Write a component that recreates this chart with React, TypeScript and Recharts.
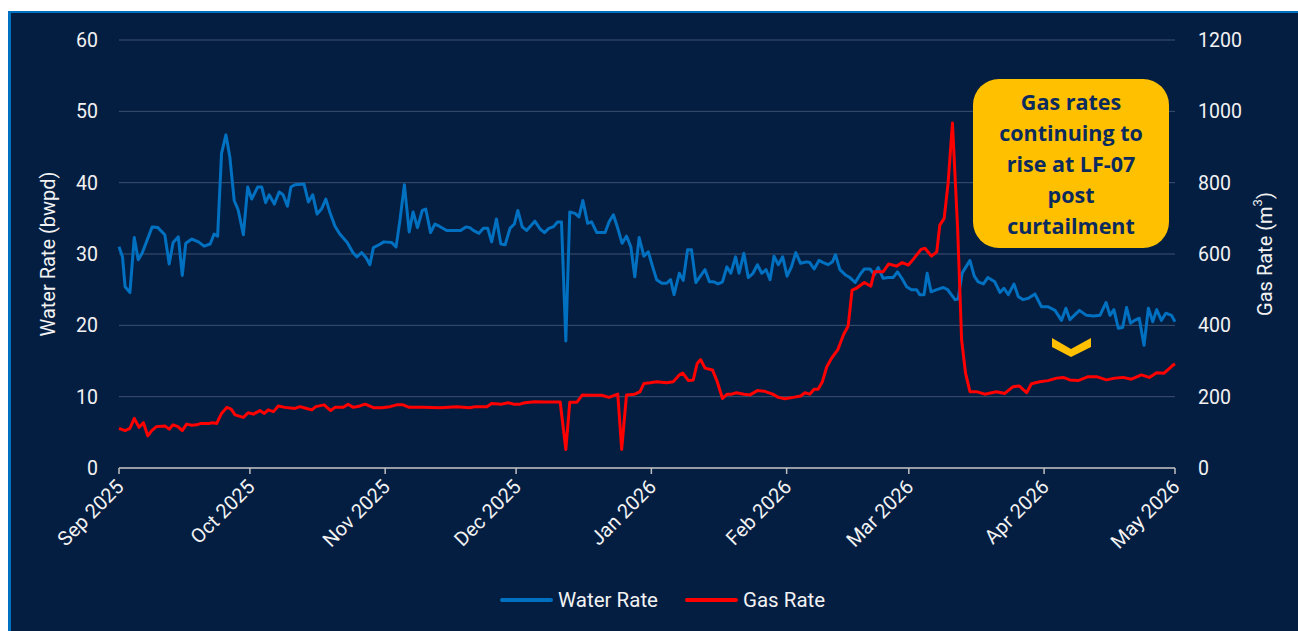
import { CartesianGrid, Line, LineChart, XAxis, YAxis } from 'recharts'

// day offsets from 1 Sep 2025
const monthTicks = [0, 30, 61, 91, 122, 153, 181, 212, 242]
const monthLabels = [
  'Sep 2025', 'Oct 2025', 'Nov 2025', 'Dec 2025', 'Jan 2026',
  'Feb 2026', 'Mar 2026', 'Apr 2026', 'May 2026',
]
const waterTicks = [0, 10, 20, 30, 40, 50, 60]
const gasTicks = [0, 200, 400, 600, 800, 1000, 1200]

const waterDays = [
  0, 0.8, 1.4, 2.5, 3.5, 4.4, 5.3, 7.6, 8.9, 10.5,
  11.5, 12.4, 13.6, 14.5, 15.3, 16.7, 18.2, 19.5, 20.9, 21.8,
  22.6, 23.5, 24.5, 25.4, 26.4, 27.3, 28.5, 29.5, 30.4, 31.8,
  32.7, 33.6, 34.4, 35.6, 36.7, 37.6, 38.6, 39.4, 40.3, 42.4,
  43.4, 44.4, 45.4, 46.4, 47.4, 48.3, 49.5, 50.6, 52.3, 53.6,
  54.5, 55.6, 56.6, 57.5, 58.3, 59.6, 60.7, 62.5, 63.5, 64.4,
  65.4, 66.5, 67.4, 68.4, 69.5, 70.3, 71.4, 72.4, 73.4, 75.1,
  78.3, 79.5, 80.4, 81.2, 82.5, 83.5, 84.5, 85.4, 86.5, 87.5,
  88.5, 89.6, 90.6, 91.4, 92.4, 93.4, 95.3, 96.5, 97.5, 98.5,
  99.5, 100.5, 101.4, 102.4, 103.3, 104.5, 105.4, 106.3, 107.4, 108.3,
  109.5, 111.4, 112.3, 113.3, 114.3, 115.3, 116.3, 117.3, 118.2, 119.2,
  120.3, 121.3, 122.3, 123.2, 124.4, 125.5, 126.4, 127.2, 128.4, 129.3,
  130.3, 131.2, 132.2, 133.1, 134.3, 135.3, 136.3, 137.3, 138.3, 139.3,
  140.2, 141.3, 142.1, 143.2, 144.2, 145.3, 146.3, 147.3, 148.3, 149.2,
  150.1, 151.1, 152.1, 153.1, 154.1, 155.1, 156.2, 157.6, 158.3, 159.3,
  160.4, 161.4, 162.5, 163.5, 164.2, 165.2, 166.4, 167.5, 168.7, 169.8,
  170.8, 172.1, 173.1, 174.0, 175.1, 176.3, 177.4, 178.4, 179.5, 180.5,
  181.6, 182.8, 183.5, 184.5, 185.2, 186.1, 187.4, 188.9, 189.9, 190.6,
  191.6, 192.3, 193.2, 194.2, 195.0, 196.0, 196.9, 198.1, 199.1, 200.7,
  201.9, 202.8, 203.8, 205.1, 206.1, 207.2, 208.4, 209.9, 211.4, 212.9,
  214.5, 216.0, 217.0, 217.9, 220.1, 221.7, 223.3, 224.8, 226.2, 227.1,
  228.0, 229.0, 230.0, 230.9, 231.8, 232.8, 233.8, 234.9, 235.9, 236.9,
  237.8, 238.9, 239.9, 241.2, 242,
]
const waterRate = [
  31.0, 29.6, 25.4, 24.6, 32.3, 29.2, 30.1, 33.8, 33.7, 32.7,
  28.6, 31.6, 32.4, 27.0, 31.5, 32.1, 31.7, 31.1, 31.4, 32.8,
  32.5, 44.1, 46.7, 43.6, 37.5, 36.2, 32.7, 39.4, 37.7, 39.4,
  39.4, 37.2, 38.3, 37.0, 38.7, 38.3, 36.7, 39.4, 39.7, 39.8,
  37.3, 38.3, 35.6, 36.3, 37.7, 35.9, 33.9, 32.8, 31.6, 30.2,
  29.6, 30.2, 29.5, 28.5, 30.9, 31.3, 31.7, 31.6, 31.0, 34.8,
  39.7, 33.1, 35.9, 33.7, 36.1, 36.3, 33.0, 34.2, 33.9, 33.3,
  33.3, 33.8, 33.7, 33.3, 32.9, 33.6, 33.6, 31.7, 34.9, 31.4,
  31.3, 33.6, 34.2, 36.1, 33.8, 33.3, 34.6, 33.5, 33.0, 33.6,
  33.8, 34.5, 34.5, 17.8, 35.9, 35.7, 35.2, 37.5, 34.3, 34.5,
  33.0, 33.0, 34.5, 35.5, 33.6, 31.5, 32.5, 31.0, 26.8, 32.3,
  29.7, 30.3, 28.2, 26.4, 25.9, 25.9, 26.4, 24.3, 27.3, 26.3,
  30.6, 30.6, 26.0, 26.8, 27.8, 26.1, 26.1, 25.8, 26.1, 28.2,
  27.3, 29.6, 27.3, 30.1, 26.7, 27.3, 28.5, 27.3, 27.8, 26.4,
  29.7, 28.5, 29.6, 26.9, 28.2, 30.2, 28.7, 28.9, 28.8, 27.9,
  29.1, 28.8, 28.5, 28.9, 29.9, 27.8, 27.1, 26.7, 26.0, 27.1,
  27.9, 27.9, 27.1, 28.1, 26.6, 26.7, 26.7, 27.5, 26.5, 25.4,
  25.0, 25.0, 24.3, 24.3, 27.3, 24.7, 25.0, 25.3, 25.0, 24.4,
  23.6, 23.7, 27.3, 28.3, 29.1, 26.9, 26.1, 25.8, 26.7, 26.1,
  24.6, 25.2, 24.3, 25.8, 24.0, 23.6, 23.8, 24.4, 22.6, 22.6,
  22.1, 20.7, 22.4, 20.8, 22.1, 21.4, 21.3, 21.4, 23.2, 21.4,
  22.2, 19.6, 19.7, 22.5, 20.3, 20.7, 21.0, 17.2, 22.4, 20.5,
  22.2, 20.7, 21.7, 21.4, 20.5,
]

const gasDays = [
  0, 1.4, 2.5, 3.5, 4.6, 5.6, 6.6, 7.5, 8.6, 10.5,
  11.5, 12.4, 13.5, 14.5, 15.5, 16.7, 17.8, 18.8, 20.5, 21.6,
  22.4, 23.5, 24.7, 25.7, 26.6, 28.5, 29.6, 30.8, 32.3, 33.3,
  34.2, 35.4, 36.5, 38.0, 40.3, 41.5, 43.0, 44.2, 45.1, 47.0,
  48.5, 49.5, 51.4, 52.5, 53.7, 55.2, 56.4, 58.3, 60.2, 62.1,
  63.6, 65.1, 66.5, 69.7, 73.6, 77.4, 80.4, 81.6, 84.3, 85.4,
  87.7, 89.2, 90.4, 91.9, 93.0, 95.3, 97.6, 101.1, 102.4, 103.3,
  104.9, 106.2, 108.3, 110.6, 112.3, 114.3, 115.2, 116.3, 118.2, 119.4,
  120.3, 121.7, 123.2, 125.5, 127.0, 128.4, 129.2, 130.5, 131.6, 132.5,
  133.3, 134.3, 136.0, 137.1, 138.3, 139.4, 140.4, 141.5, 143.2, 144.6,
  146.3, 148.0, 149.8, 151.1, 152.6, 154.5, 156.2, 157.2, 158.3, 159.3,
  160.2, 161.2, 162.2, 163.3, 164.7, 166.0, 167.1, 168.0, 169.0, 170.8,
  172.3, 173.1, 175.1, 176.4, 178.2, 179.5, 180.9, 182.0, 183.8, 184.7,
  186.2, 187.4, 188.1, 189.1, 190.0, 191.0, 192.2, 193.1, 194.0, 195.0,
  196.5, 198.4, 200.0, 201.1, 203.0, 204.9, 206.3, 208.0, 209.1, 211.0,
  212.9, 214.9, 216.4, 217.9, 219.8, 222.1, 224.0, 226.3, 228.2, 230.1,
  232.0, 234.3, 236.1, 237.8, 239.5, 240.8, 241.6, 242,
]
const gasRate = [
  111, 105, 111, 139, 114, 127, 90, 105, 116, 118,
  109, 121, 116, 105, 123, 120, 121, 125, 125, 127,
  125, 153, 170, 165, 149, 142, 155, 151, 161, 153,
  163, 158, 174, 170, 167, 172, 167, 163, 172, 177,
  161, 170, 170, 179, 170, 174, 179, 169, 169, 172,
  177, 177, 170, 170, 169, 172, 169, 172, 172, 181,
  179, 183, 179, 179, 183, 186, 185, 185, 52, 184,
  184, 205, 204, 204, 198, 207, 52, 205, 207, 214,
  237, 239, 242, 239, 242, 261, 266, 245, 247, 293,
  304, 280, 275, 242, 195, 207, 207, 211, 207, 205,
  217, 215, 207, 198, 194, 198, 202, 211, 207, 221,
  221, 242, 284, 308, 331, 373, 398, 499, 504, 520,
  510, 550, 550, 572, 566, 576, 569, 585, 613, 616,
  594, 606, 681, 700, 798, 967, 667, 359, 266, 214,
  214, 207, 211, 214, 209, 228, 230, 211, 236, 242,
  245, 252, 254, 247, 245, 256, 256, 247, 252, 254,
  249, 261, 254, 267, 266, 280, 289, 292,
]

const noteLines = ['Gas rates', 'continuing to', 'rise at LF-07', 'post', 'curtailment']

const waterData = waterDays.map((day, i) => ({ day, water: waterRate[i] }))
const gasData = gasDays.map((day, i) => ({ day, gas: gasRate[i] }))

const BG = '#041E42'
const TEXT = '#f2f2f2'
const FONT = 'Roboto, "Open Sans", sans-serif'
const WATER = '#0070C0'
const GAS = '#FF0000'

function MonthTick({ x, y, payload }: { x: number; y: number; payload: { value: number } }) {
  const label = monthLabels[monthTicks.indexOf(payload.value)]
  const ax = x + 6
  const ay = y + 12
  return (
    <text
      x={ax}
      y={ay}
      transform={`rotate(-45 ${ax} ${ay})`}
      textAnchor="end"
      fill={TEXT}
      fontSize={20}
      fontFamily={FONT}
    >
      {label}
    </text>
  )
}

function WaterTitle(props: any) {
  const vb = props.viewBox ?? { x: 0, y: 40, height: 428 }
  const cx = vb.x + 48
  const cy = vb.y + vb.height / 2
  return (
    <text x={cx} y={cy} transform={`rotate(-90 ${cx} ${cy})`} textAnchor="middle"
      dominantBaseline="central" fill={TEXT} fontSize={20} fontFamily={FONT}>
      Water Rate (bwpd)
    </text>
  )
}

function GasTitle(props: any) {
  const vb = props.viewBox ?? { x: 1175, y: 40, height: 428 }
  const cx = vb.x + 90
  const cy = vb.y + vb.height / 2
  return (
    <text x={cx} y={cy} transform={`rotate(-90 ${cx} ${cy})`} textAnchor="middle"
      dominantBaseline="central" fill={TEXT} fontSize={20} fontFamily={FONT}>
      Gas Rate (m<tspan dy={-8} fontSize={13}>3</tspan><tspan dy={8}>)</tspan>
    </text>
  )
}

function LegendItem({ color, label }: { color: string; label: string }) {
  return (
    <div style={{ display: 'flex', alignItems: 'center' }}>
      <div style={{ width: 53, height: 4, background: color, borderRadius: 2, marginRight: 5 }} />
      <span style={{ color: TEXT, fontSize: 20.5, fontFamily: FONT }}>{label}</span>
    </div>
  )
}

export default function App() {
  return (
    <div style={{ position: 'fixed', left: 0, top: 0, width: 1298, height: 631, background: '#fff', overflow: 'hidden' }}>
      <div
        style={{
          position: 'absolute', left: 8, top: 11, right: 0, bottom: 0,
          background: BG, borderTop: `2px solid ${WATER}`, borderLeft: `3px solid ${WATER}`,
        }}
      />
      <div style={{ position: 'absolute', left: 0, top: 0 }}>
        <LineChart width={1298} height={631} margin={{ top: 40, right: 0, bottom: 103, left: 0 }}>
          <CartesianGrid yAxisId="left" vertical={false} stroke="#3d5170" strokeWidth={1} />
          <XAxis
            type="number"
            dataKey="day"
            domain={[0, 242]}
            ticks={monthTicks}
            interval={0}
            height={60}
            stroke="#bfbfbf"
            strokeWidth={1.5}
            tickSize={6}
            tickMargin={2}
            tick={MonthTick as any}
          />
          <YAxis
            yAxisId="left"
            domain={[0, 60]}
            ticks={waterTicks}
            width={119}
            axisLine={false}
            tickLine={false}
            tickSize={0}
            tickMargin={21}
            tick={{ fill: TEXT, fontSize: 19.5, fontFamily: FONT }}
            label={WaterTitle as any}
          />
          <YAxis
            yAxisId="right"
            orientation="right"
            domain={[0, 1200]}
            ticks={gasTicks}
            width={123}
            axisLine={false}
            tickLine={false}
            tickSize={0}
            tickMargin={23}
            tick={{ fill: TEXT, fontSize: 19.5, fontFamily: FONT, textAnchor: 'start' }}
            label={GasTitle as any}
          />
          <Line
            yAxisId="left"
            data={waterData}
            dataKey="water"
            name="Water Rate"
            stroke={WATER}
            strokeWidth={3}
            dot={false}
            strokeLinejoin="round"
            isAnimationActive={false}
          />
          <Line
            yAxisId="right"
            data={gasData}
            dataKey="gas"
            name="Gas Rate"
            stroke={GAS}
            strokeWidth={3}
            dot={false}
            strokeLinejoin="round"
            isAnimationActive={false}
          />
        </LineChart>
      </div>
      <div style={{ position: 'absolute', left: 500, top: 588, display: 'flex', gap: 27 }}>
        <LegendItem color={WATER} label="Water Rate" />
        <LegendItem color={GAS} label="Gas Rate" />
      </div>
      <div
        style={{
          position: 'absolute', left: 973, top: 79, width: 196, height: 169,
          background: '#FFC000', borderRadius: 26, display: 'flex', flexDirection: 'column',
          alignItems: 'center', justifyContent: 'center',
          color: '#0B2A5E', fontFamily: '"Open Sans", sans-serif', fontWeight: 700, fontSize: 21.5, lineHeight: '31px',
        }}
      >
        {noteLines.map((t) => (
          <div key={t}>{t}</div>
        ))}
      </div>
      <svg style={{ position: 'absolute', left: 1050, top: 336 }} width={44} height={24}>
        <polygon points="2,2 21,13 41,2 41,11 21,21 2,11" fill="#FFC000" />
      </svg>
    </div>
  )
}
